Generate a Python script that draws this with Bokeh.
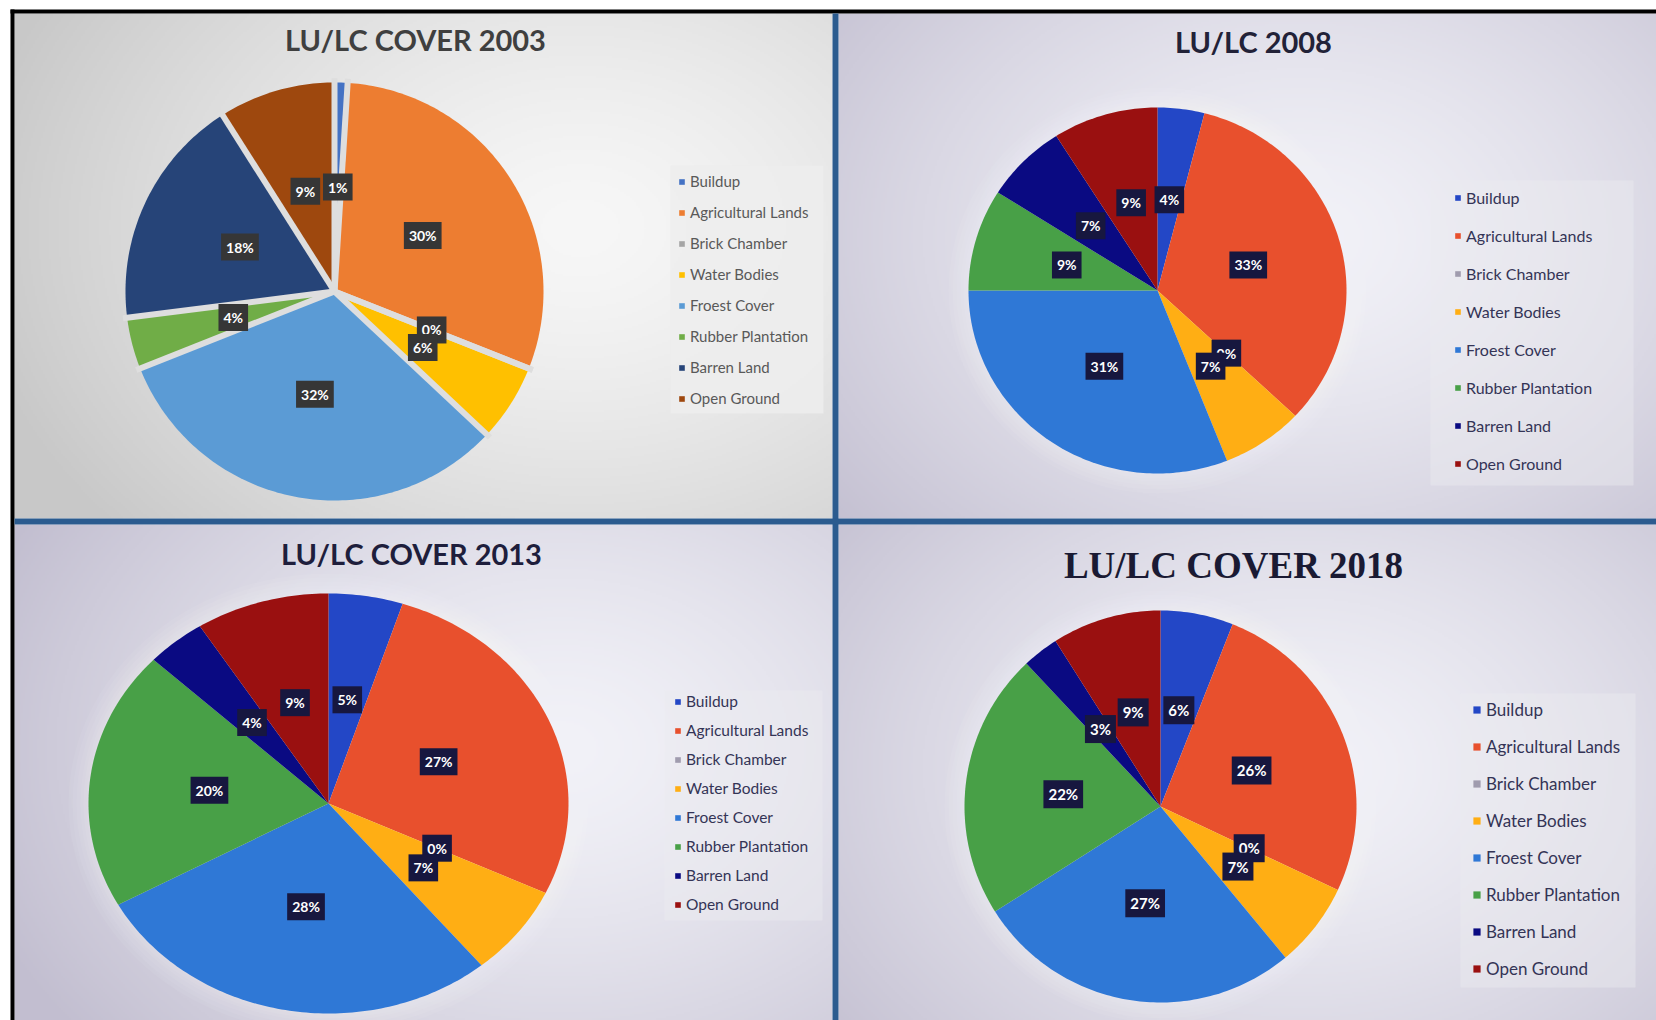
import numpy as np
from bokeh.plotting import figure
from bokeh.models import ColumnDataSource, Legend, LegendItem, Range1d
from bokeh.core.properties import value
from bokeh.embed import file_html
from bokeh.resources import INLINE

# ---------------- data ----------------
categories = ["Buildup", "Agricultural Lands", "Brick Chamber", "Water Bodies",
              "Froest Cover", "Rubber Plantation", "Barren Land", "Open Ground"]
titles = ["LU/LC COVER 2003", "LU/LC 2008", "LU/LC COVER 2013", "LU/LC COVER 2018"]
cover_2003 = [1, 30, 0, 6, 32, 4, 18, 9]
cover_2008 = [4, 33, 0, 7, 31, 9, 7, 9]
cover_2013 = [5, 27, 0, 7, 28, 20, 4, 9]
cover_2018 = [6, 26, 0, 7, 27, 22, 3, 9]
palette_2003 = ["#4472C4", "#ED7D31", "#A5A5A5", "#FFC000", "#5B9BD5", "#70AD47", "#264478", "#9E480E"]
palette_new = ["#2347C6", "#E8502D", "#A09CAE", "#FFAE14", "#2F78D6", "#48A047", "#0A0A82", "#9A1010"]

# ---------------- layout (page pixels, y measured downward) ----------------
W, H = 1656, 1020


def Y(v):
    return H - v


p = figure(width=W, height=H, x_range=Range1d(0, W), y_range=Range1d(0, H),
           output_backend="svg", toolbar_location=None, min_border=0,
           x_axis_type=None, y_axis_type=None)
p.outline_line_color = None
p.background_fill_color = "white"
p.border_fill_color = "white"


def gradient(x0, y0, x1, y1, gx, gy, sx, sy, light, dark, step=2):
    nx = int((x1 - x0) / step)
    ny = int((y1 - y0) / step)
    xs = x0 + (np.arange(nx) + 0.5) * (x1 - x0) / nx
    ysd = y1 - (np.arange(ny) + 0.5) * (y1 - y0) / ny
    X, Yd = np.meshgrid(xs, ysd)
    d = np.sqrt(((X - gx) / sx) ** 2 + ((Yd - gy) / sy) ** 2)
    t = np.clip(d, 0, 1) ** 1.4
    img = np.empty((ny, nx), dtype=np.uint32)
    v = img.view(dtype=np.uint8).reshape((ny, nx, 4))
    for k in range(3):
        v[:, :, k] = (light[k] + (dark[k] - light[k]) * t).astype(np.uint8)
    v[:, :, 3] = 255
    p.image_rgba(image=[img], x=x0, y=Y(y1), dw=x1 - x0, dh=y1 - y0)


# panel backgrounds
gradient(14, 13, 832, 518, 580, 228, 620, 460, (247, 247, 247), (200, 200, 200))
gradient(838, 13, 1656, 518, 1300, 238, 620, 460, (242, 242, 248), (194, 190, 208))
gradient(14, 524, 832, 1020, 560, 748, 620, 460, (242, 242, 248), (194, 190, 208))
gradient(838, 524, 1656, 1020, 1300, 768, 620, 460, (242, 242, 248), (194, 190, 208))

# borders
p.quad(left=10, right=14, bottom=Y(1020), top=Y(9), fill_color="black", line_color=None)
p.quad(left=10, right=W, bottom=Y(13), top=Y(9), fill_color="black", line_color=None)
p.quad(left=832, right=838, bottom=Y(1020), top=Y(13), fill_color="#2B5B8F", line_color=None)
p.quad(left=14, right=W, bottom=Y(524), top=Y(518), fill_color="#2B5B8F", line_color=None)

panels = [
    dict(vals=cover_2003, pal=palette_2003, cx=334, cy=291, rx=209, ry=209, gaps=True,
         box="#363636", lfs="14px", glow=False,
         title=(415, 39), tfont="Lato", tsize="29px", tcolor="#3F3F3F",
         leg_box=(670, 165, 823, 413), leg_fill="#EDEDED", leg_alpha=0.85,
         leg_loc=(678, 612), leg_sp=11, leg_g=7, leg_fs="15px", leg_col="#595959"),
    dict(vals=cover_2008, pal=palette_new, cx=1157, cy=290, rx=189, ry=183, gaps=False,
         box="#17173F", lfs="14px", glow=True,
         title=(1253, 41), tfont="Lato", tsize="29px", tcolor="#222238",
         leg_box=(1430, 180, 1633, 485), leg_fill="#EAEAF0", leg_alpha=0.45,
         leg_loc=(1454, 547), leg_sp=18, leg_g=7, leg_fs="16px", leg_col="#343456"),
    dict(vals=cover_2013, pal=palette_new, cx=328, cy=803, rx=240, ry=210, gaps=False,
         box="#17173F", lfs="14px", glow=True,
         title=(411, 553), tfont="Lato", tsize="29px", tcolor="#1E1E3C",
         leg_box=(664, 690, 822, 920), leg_fill="#EAEAF0", leg_alpha=0.45,
         leg_loc=(674, 106), leg_sp=9, leg_g=7, leg_fs="15.5px", leg_col="#343456"),
    dict(vals=cover_2018, pal=palette_new, cx=1160, cy=806, rx=196, ry=196, gaps=False,
         box="#17173F", lfs="15px", glow=True,
         title=(1233, 565), tfont="Liberation Serif", tsize="37px", tcolor="#1A1A33",
         leg_box=(1460, 693, 1635, 987), leg_fill="#EAEAF0", leg_alpha=0.45,
         leg_loc=(1472, 41), leg_sp=16, leg_g=9, leg_fs="17px", leg_col="#343456"),
]

K = 0.5
for i, cfg in enumerate(panels):
    vals = cfg["vals"]
    total = float(sum(vals))
    cx, cyu, rx, ry = cfg["cx"], Y(cfg["cy"]), cfg["rx"], cfg["ry"]

    if cfg["glow"]:
        for g in (20, 16, 12, 8, 5, 2):
            p.ellipse(x=[cx], y=[cyu], width=[2 * (rx + g)], height=[2 * (ry + g)],
                      fill_color="white", fill_alpha=0.06, line_color=None)

    xs, ys, lx, ly, labs, bx, by = [], [], [], [], [], [], []
    start = 0.0
    for v in vals:
        f0 = start / total
        f1 = (start + v) / total
        n = max(2, int((f1 - f0) * 360) + 2)
        t = np.linspace(f0, f1, n) * 2 * np.pi
        xs.append([cx] + list(cx + rx * np.sin(t)))
        ys.append([cyu] + list(cyu + ry * np.cos(t)))
        m = (f0 + f1) / 2 * 2 * np.pi
        lx.append(cx + K * rx * np.sin(m))
        ly.append(cyu + K * ry * np.cos(m))
        labs.append("%d%%" % round(v))
        bx.append(cx + rx * 1.02 * np.sin(f0 * 2 * np.pi))
        by.append(cyu + ry * 1.02 * np.cos(f0 * 2 * np.pi))
        start += v
    src = ColumnDataSource(dict(xs=xs, ys=ys, color=cfg["pal"], cat=categories))
    r = p.patches("xs", "ys", source=src, fill_color="color", line_color=None)
    if cfg["gaps"]:
        p.segment(x0=[cx] * len(bx), y0=[cyu] * len(by), x1=bx, y1=by,
                  line_color="#DEDEDE", line_width=6)

    # legend background
    l0, t0, r0, b0 = cfg["leg_box"]
    p.quad(left=l0, right=r0, top=Y(t0), bottom=Y(b0), fill_color=cfg["leg_fill"],
           fill_alpha=cfg["leg_alpha"], line_color=None)

    lsrc = ColumnDataSource(dict(x=lx, y=ly, text=labs))
    p.text(x="x", y="y", text="text", source=lsrc, text_font=value("Lato"),
           text_font_style="bold", text_font_size=cfg["lfs"], text_color="white",
           text_align="center", text_baseline="middle",
           background_fill_color=cfg["box"], padding=5)

    tx, ty = cfg["title"]
    p.text(x=[tx], y=[Y(ty)], text=[titles[i]], text_font=value(cfg["tfont"]),
           text_font_style="bold", text_font_size=cfg["tsize"], text_color=cfg["tcolor"],
           text_align="center", text_baseline="middle")

    items = [LegendItem(label=categories[j], renderers=[r], index=j) for j in range(len(categories))]
    leg = Legend(items=items, location=cfg["leg_loc"], orientation="vertical",
                 padding=0, margin=0, spacing=cfg["leg_sp"], label_height=20,
                 glyph_height=cfg["leg_g"], glyph_width=cfg["leg_g"], label_standoff=5,
                 label_text_font="Lato", label_text_font_size=cfg["leg_fs"],
                 label_text_color=cfg["leg_col"], background_fill_alpha=0,
                 border_line_alpha=0, inactive_fill_alpha=0)
    p.add_layout(leg)

open("out.html", "w").write(file_html(p, INLINE))
